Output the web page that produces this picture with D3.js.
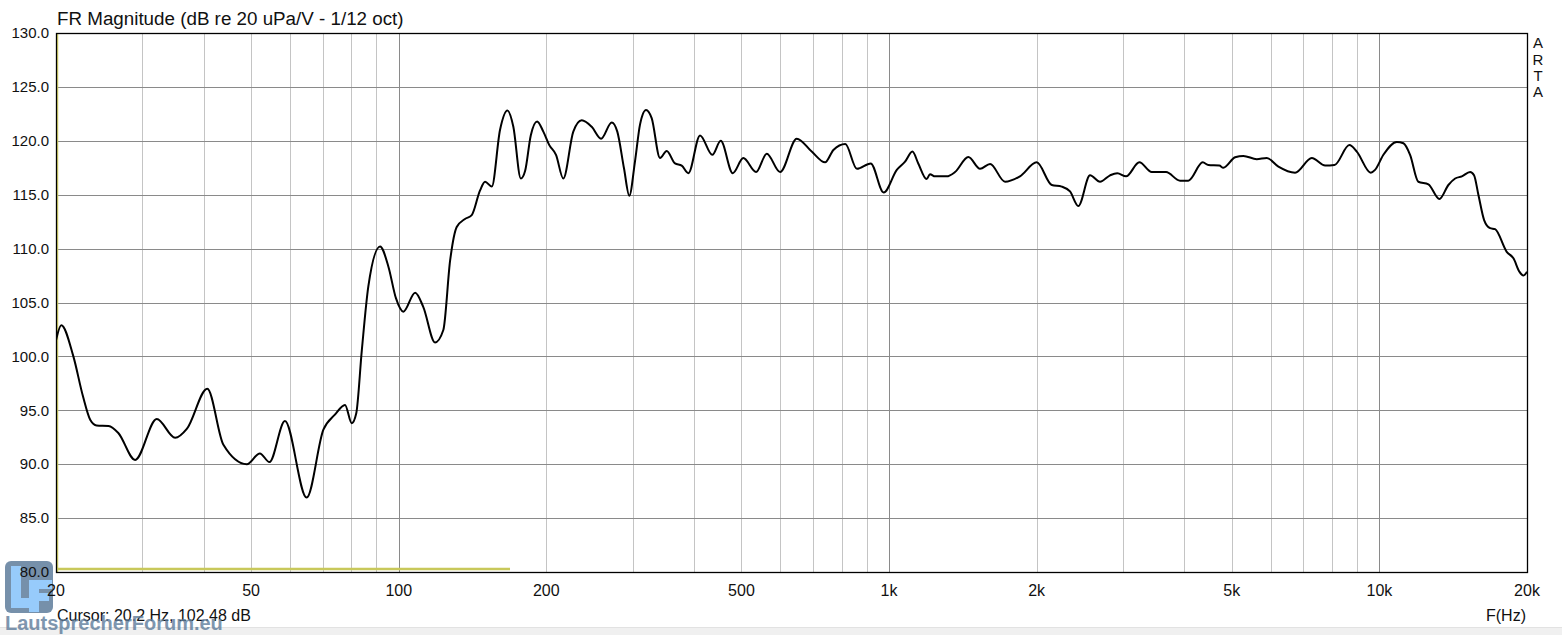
<!DOCTYPE html>
<html>
<head>
<meta charset="utf-8">
<script src="https://cdn.jsdelivr.net/npm/d3@7"></script>
<style>
  body { margin: 0; background: #fff; }
  svg { display: block; font-family: "Liberation Sans", Arial, sans-serif; }
</style>
</head>
<body>
<div id="chart"></div>
<script>
const width = 1562;
const height = 635;

// data (Hz, dB)
const freqs = [
  20, 20.5, 21.7, 22.7, 23.5, 24.2, 25.6, 26.8, 29.0, 32.1, 35.0, 37.0, 40.7, 43.9, 49.0, 52.1, 54.5, 58.6,
  64.9, 70.2, 74.1, 77.7, 80.2, 81.9, 84.1, 86.7, 91.6, 95.3, 98.7, 102.2, 108, 112.2, 118.6, 123.3,
  127.3, 131.3, 136.5, 140.9, 146.5, 150, 154.8, 160.9, 166.6, 171.3, 177.4, 181, 185.9, 191.5, 197.2,
  202.8, 209.3, 216.6, 227, 236.2, 247.5, 258.6, 271.9, 279.1, 288, 295.3, 303.3, 310.5, 319.4, 328,
  341.1, 352, 366, 377.7, 389.7, 411.6, 436.1, 453.6, 480, 504.4, 535.5, 563.1, 599.5, 648.3, 695.4,
  740.4, 770, 814.2, 860, 917.4, 975, 1037, 1078, 1116, 1147, 1193, 1212, 1241, 1311, 1363, 1451, 1533,
  1607, 1724, 1849, 2000, 2147, 2250, 2339, 2432, 2570, 2693, 2823, 2921, 3043, 3239, 3433, 3672, 3921,
  4077, 4363, 4479, 4716, 4805, 5079, 5281, 5622, 5893, 6224, 6731, 7280, 7752, 8098, 8685, 8992, 9604,
  9798, 10190, 10851, 11196, 11550, 12006, 12589, 13254, 13826, 14272, 14727, 15311, 15596, 15921,
  16352, 16818, 17218, 18183, 18767, 19297, 19666, 20000
];
const levels = [
  101.5, 102.9, 100.0, 96.3, 94.1, 93.6, 93.55, 92.9, 90.4, 94.2, 92.45, 93.3, 97.0, 91.8, 90.0, 91.0, 90.2, 94.0,
  86.9, 93.2, 94.6, 95.5, 93.8, 94.7, 100.6, 106.5, 110.2, 108.3, 105.4, 104.15, 105.9, 104.6, 101.3, 102.45,
  108.9, 112.0, 112.75, 113.1, 115.4, 116.2, 115.75, 121.0, 122.8, 121.3, 116.5, 117.2, 120.5, 121.8, 120.85,
  119.6, 118.7, 116.5, 120.85, 121.9, 121.3, 120.2, 121.7, 120.85, 117.45, 114.9, 118.1, 121.5, 122.86, 122.1,
  118.4, 119.05, 117.9, 117.7, 117.0, 120.5, 118.7, 120.0, 117.0, 118.4, 117.1, 118.8, 117.1, 120.2, 119.0,
  118.0, 119.15, 119.7, 117.4, 117.9, 115.2, 117.3, 118.06, 119.0, 117.9, 116.45, 116.9, 116.7, 116.7, 117.1, 118.5, 117.4,
  117.85, 116.2, 116.7, 118.0, 115.9, 115.75, 115.3, 113.95, 116.8, 116.2, 116.8, 117.0, 116.7, 118.0, 117.1, 117.1, 116.3,
  116.3, 118.0, 117.75, 117.7, 117.5, 118.47, 118.6, 118.3, 118.4, 117.6, 117.04, 118.4, 117.7, 117.75, 119.6, 119.0, 117.04,
  117.3, 118.7, 119.9, 119.77, 118.7, 116.2, 115.96, 114.6, 115.9, 116.5, 116.7, 117.1, 116.8, 114.97,
  112.65, 111.9, 111.8, 109.7, 109.1, 107.86, 107.5, 107.86
];

const dbTicks = [80, 85, 90, 95, 100, 105, 110, 115, 120, 125, 130];
const freqGrid = [30, 40, 50, 60, 70, 80, 90, 100, 200, 300, 400, 500, 600, 700, 800, 900, 1000,
  2000, 3000, 4000, 5000, 6000, 7000, 8000, 9000, 10000];
const majorFreqs = [100, 1000, 10000];
const freqLabels = [20, 50, 100, 200, 500, 1000, 2000, 5000, 10000, 20000];
const labelText = f => f >= 1000 ? (f / 1000) + "k" : String(f);

const plot = { left: 56, top: 33, right: 1527, bottom: 572 };

const x = d3.scaleLog().domain([20, 20000]).range([plot.left, plot.right]);
const y = d3.scaleLinear().domain([80, 130]).range([plot.bottom, plot.top]);

const svg = d3.select("#chart")
  .append("svg")
  .attr("width", width)
  .attr("height", height);

svg.append("rect").attr("width", width).attr("height", height).attr("fill", "#fff");

// bottom status strip
svg.append("rect")
  .attr("x", 0).attr("y", 628).attr("width", width).attr("height", 7)
  .attr("fill", "#f0f0f0");
svg.append("line")
  .attr("x1", 0).attr("x2", width).attr("y1", 627.5).attr("y2", 627.5)
  .attr("stroke", "#e2e2e2");

// grid
const grid = svg.append("g");
grid.selectAll("line.v")
  .data(freqGrid)
  .enter()
  .append("line")
  .attr("x1", d => Math.round(x(d)) + 0.5)
  .attr("x2", d => Math.round(x(d)) + 0.5)
  .attr("y1", plot.top)
  .attr("y2", plot.bottom)
  .attr("stroke", d => majorFreqs.includes(d) ? "#8a8a8a" : "#c4c4c4")
  .attr("stroke-width", 1);

grid.selectAll("line.h")
  .data(dbTicks.slice(1, -1))
  .enter()
  .append("line")
  .attr("x1", plot.left)
  .attr("x2", plot.right)
  .attr("y1", d => Math.round(y(d)) + 0.5)
  .attr("y2", d => Math.round(y(d)) + 0.5)
  .attr("stroke", "#8a8a8a")
  .attr("stroke-width", 1);

// cursor markers (yellow)
svg.append("line")
  .attr("x1", plot.left).attr("x2", 510)
  .attr("y1", plot.bottom - 3).attr("y2", plot.bottom - 3)
  .attr("stroke", "#c8c85a").attr("stroke-width", 2.5);
svg.append("line")
  .attr("x1", plot.left + 1.5).attr("x2", plot.left + 1.5)
  .attr("y1", plot.top).attr("y2", plot.bottom)
  .attr("stroke", "#d4d26a").attr("stroke-width", 1.5);

// frame
svg.append("rect")
  .attr("x", plot.left + 0.5).attr("y", plot.top + 0.5)
  .attr("width", plot.right - plot.left).attr("height", plot.bottom - plot.top)
  .attr("fill", "none").attr("stroke", "#000").attr("stroke-width", 1.3);

// curve
svg.append("clipPath").attr("id", "clip")
  .append("rect")
  .attr("x", plot.left).attr("y", plot.top)
  .attr("width", plot.right - plot.left).attr("height", plot.bottom - plot.top);

const points = freqs.map((f, i) => [f, levels[i]]);
const line = d3.line()
  .x(d => x(d[0]))
  .y(d => y(d[1]))
  .curve(d3.curveMonotoneX);

svg.append("path")
  .datum(points)
  .attr("clip-path", "url(#clip)")
  .attr("d", line)
  .attr("fill", "none")
  .attr("stroke", "#000")
  .attr("stroke-width", 2)
  .attr("stroke-linejoin", "round");

// watermark logo (drawn below the texts)
const wm = svg.append("g").attr("opacity", 0.85);
wm.append("rect")
  .attr("x", 5).attr("y", 561).attr("width", 48).attr("height", 52).attr("rx", 6)
  .attr("fill", "#5f7d9c");
// "L" and "F" shapes
wm.append("path")
  .attr("d", "M11,566 H21 V598 H36 V608 H11 Z")
  .attr("fill", "#86c2fb");
wm.append("path")
  .attr("d", "M29,580 H52 V589 H39 V593 H49 V601 H39 V612 H29 Z")
  .attr("fill", "#86c2fb");

// axis labels
svg.append("g")
  .selectAll("text")
  .data(dbTicks)
  .enter()
  .append("text")
  .attr("x", 49)
  .attr("y", d => y(d))
  .attr("dy", "0.35em")
  .attr("text-anchor", "end")
  .attr("font-size", 15)
  .attr("fill", "#111")
  .text(d => d.toFixed(1));

svg.append("g")
  .selectAll("text")
  .data(freqLabels)
  .enter()
  .append("text")
  .attr("x", d => x(d))
  .attr("y", 590)
  .attr("dy", "0.35em")
  .attr("text-anchor", "middle")
  .attr("font-size", 16)
  .attr("fill", "#111")
  .text(labelText);

svg.append("text")
  .attr("x", 1506).attr("y", 615).attr("dy", "0.35em")
  .attr("text-anchor", "middle")
  .attr("font-size", 16)
  .attr("fill", "#111")
  .text("F(Hz)");

svg.append("text")
  .attr("x", 57).attr("y", 18).attr("dy", "0.35em")
  .attr("font-size", 18.8)
  .attr("fill", "#111")
  .text("FR Magnitude (dB re 20 uPa/V - 1/12 oct)");

svg.append("g")
  .selectAll("text")
  .data(["A", "R", "T", "A"])
  .enter()
  .append("text")
  .attr("x", 1538)
  .attr("y", (d, i) => 43 + i * 16.3)
  .attr("dy", "0.35em")
  .attr("text-anchor", "middle")
  .attr("font-size", 15)
  .attr("fill", "#111")
  .text(d => d);

svg.append("text")
  .attr("x", 57).attr("y", 615).attr("dy", "0.35em")
  .attr("font-size", 16)
  .attr("fill", "#111")
  .text("Cursor: 20.2 Hz, 102.48 dB");

// watermark caption, semi-transparent over the cursor readout
svg.append("text")
  .attr("x", 5).attr("y", 630)
  .attr("font-size", 20).attr("font-weight", "bold")
  .attr("fill", "#5f7d9c")
  .attr("opacity", 0.8)
  .text("LautsprecherForum.eu");
</script>
</body>
</html>
